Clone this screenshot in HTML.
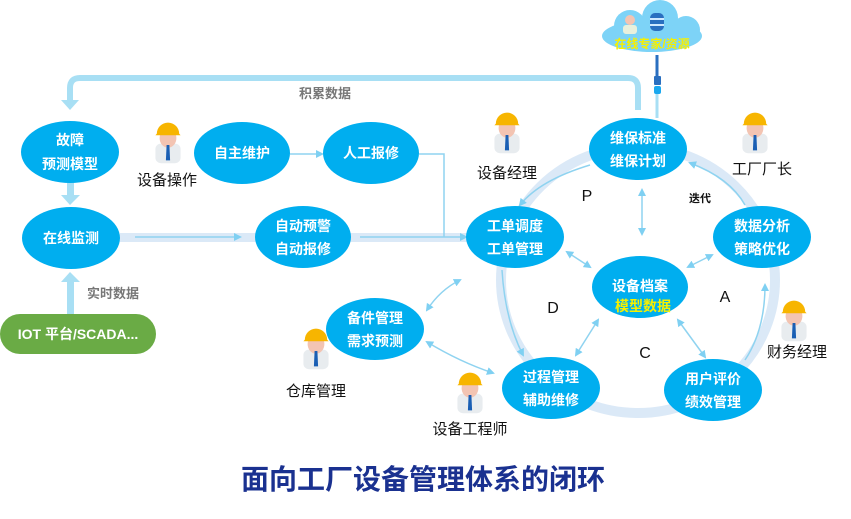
<!DOCTYPE html>
<html><head><meta charset="utf-8"><style>
body{margin:0;background:#fff;width:851px;height:514px;overflow:hidden}
svg text{font-family:"Liberation Sans","Noto Sans CJK SC",sans-serif}
</style></head><body>
<svg width="851" height="514" viewBox="0 0 851 514" xmlns="http://www.w3.org/2000/svg">
<defs>
<marker id="a" markerWidth="8" markerHeight="8" refX="6" refY="4" orient="auto-start-reverse" markerUnits="userSpaceOnUse"><path d="M0,0 L8,4 L0,8 Z" fill="#7fd0f2"/></marker>
<g id="p0">
<rect x="-9" y="4" width="18" height="14" rx="4" fill="#e8ecef"/>
<ellipse cx="0" cy="0" rx="6" ry="7" fill="#f3c4b2"/>
<path d="M-8,-3 A8,8 0 0 1 8,-3 L9,-2 L-9,-2 Z" fill="#f7b500"/>
<path d="M-1,5 L1,5 L1.5,16 L-1.5,16 Z" fill="#1a5fb4"/>
</g>
<g id="p"><use href="#p0" transform="scale(1.4)"/></g>
</defs>
<!-- top loop -->
<path d="M638,110 V88 Q638,78 628,78 H80 Q70,78 70,88 V100" fill="none" stroke="#a8dff4" stroke-width="6"/>
<path d="M61,100 L79,100 L70,110 Z" fill="#a8dff4"/>
<text x="325" y="98" font-size="13" font-weight="bold" fill="#777" text-anchor="middle">积累数据</text>
<!-- cloud -->
<g fill="#7dd3f7"><ellipse cx="652" cy="36" rx="50" ry="16"/><circle cx="630" cy="26" r="16"/><circle cx="660" cy="18" r="18"/><circle cx="686" cy="30" r="14"/></g>
<rect x="650" y="13" width="14" height="18" rx="5" fill="#2a6fc0"/>
<rect x="650" y="18" width="14" height="2" fill="#cfe8ff"/><rect x="650" y="24" width="14" height="2" fill="#cfe8ff"/>
<circle cx="630" cy="20" r="5" fill="#f3c4b2"/><rect x="623" y="25" width="14" height="9" rx="3" fill="#e8f0dc"/>
<text x="652" y="48" font-size="12" font-weight="bold" fill="#f6f000" text-anchor="middle">在线专家/资源</text>
<line x1="657" y1="55" x2="657" y2="78" stroke="#2a6fc0" stroke-width="3"/>
<rect x="654" y="76" width="7" height="9" rx="1" fill="#2a6fc0"/>
<rect x="654" y="86" width="7" height="8" rx="2" fill="#1aa8ef"/>
<line x1="657" y1="94" x2="657" y2="118" stroke="#a8dff4" stroke-width="3"/>
<!-- ring -->
<ellipse cx="638" cy="280" rx="137" ry="133" fill="none" stroke="#dbe9f7" stroke-width="10"/>
<path d="M590,165 Q540,180 520,205" fill="none" stroke="#8fd3f0" stroke-width="1.5" marker-end="url(#a)"/>
<path d="M745,205 Q730,178 690,163" fill="none" stroke="#8fd3f0" stroke-width="1.5" marker-end="url(#a)"/>
<path d="M765,285 Q765,330 745,360" fill="none" stroke="#8fd3f0" stroke-width="1.5" marker-start="url(#a)"/>
<path d="M502,270 Q505,320 523,355" fill="none" stroke="#8fd3f0" stroke-width="1.5" marker-end="url(#a)"/>
<!-- left flows -->
<rect x="120" y="233" width="348" height="9" fill="#dbe9f7"/>
<line x1="135" y1="237" x2="240" y2="237" stroke="#8fd3f0" stroke-width="1.5" marker-end="url(#a)"/>
<line x1="360" y1="237" x2="466" y2="237" stroke="#8fd3f0" stroke-width="1.5" marker-end="url(#a)"/>
<polyline points="419,154 444,154 444,237" fill="none" stroke="#8fd3f0" stroke-width="1.5"/>
<line x1="290" y1="154" x2="322" y2="154" stroke="#8fd3f0" stroke-width="1.5" marker-end="url(#a)"/>
<rect x="67" y="180" width="7" height="15" fill="#a8dff4"/><path d="M61,195 L80,195 L70,205 Z" fill="#a8dff4"/>
<rect x="67" y="282" width="7" height="33" fill="#a8dff4"/><path d="M61,282 L80,282 L70,272 Z" fill="#a8dff4"/>
<text x="113" y="298" font-size="13" font-weight="bold" fill="#777" text-anchor="middle">实时数据</text>
<rect x="0" y="314" width="156" height="40" rx="20" fill="#6aab45"/>
<text x="78" y="339" font-size="14" font-weight="bold" fill="#fff" text-anchor="middle">IOT 平台/SCADA...</text>
<!-- inner arrows -->
<g stroke="#8fd3f0" stroke-width="1.5" fill="none">
<line x1="642" y1="190" x2="642" y2="234" marker-start="url(#a)" marker-end="url(#a)"/>
<line x1="567" y1="252" x2="590" y2="267" marker-start="url(#a)" marker-end="url(#a)"/>
<line x1="688" y1="267" x2="712" y2="255" marker-start="url(#a)" marker-end="url(#a)"/>
<line x1="598" y1="320" x2="576" y2="355" marker-start="url(#a)" marker-end="url(#a)"/>
<line x1="678" y1="320" x2="705" y2="357" marker-start="url(#a)" marker-end="url(#a)"/>
<path d="M460,280 Q440,290 427,310" marker-start="url(#a)" marker-end="url(#a)"/>
<path d="M427,342 Q460,362 493,373" marker-start="url(#a)" marker-end="url(#a)"/>
</g>
<!-- ellipses -->
<g fill="#00aeef">
<ellipse cx="70" cy="152" rx="49" ry="31"/><ellipse cx="242" cy="153" rx="48" ry="31"/>
<ellipse cx="371" cy="153" rx="48" ry="31"/><ellipse cx="71" cy="238" rx="49" ry="31"/>
<ellipse cx="303" cy="237" rx="48" ry="31"/><ellipse cx="638" cy="149" rx="49" ry="31"/>
<ellipse cx="515" cy="237" rx="49" ry="31"/><ellipse cx="762" cy="237" rx="49" ry="31"/>
<ellipse cx="640" cy="287" rx="48" ry="31"/><ellipse cx="551" cy="388" rx="49" ry="31"/>
<ellipse cx="713" cy="390" rx="49" ry="31"/><ellipse cx="375" cy="329" rx="49" ry="31"/>
</g>
<g font-size="14" font-weight="bold" fill="#fff" text-anchor="middle">
<text x="70" y="145">故障</text><text x="70" y="169">预测模型</text>
<text x="242" y="158">自主维护</text><text x="371" y="158">人工报修</text>
<text x="71" y="243">在线监测</text>
<text x="303" y="231">自动预警</text><text x="303" y="254">自动报修</text>
<text x="638" y="143">维保标准</text><text x="638" y="166">维保计划</text>
<text x="515" y="231">工单调度</text><text x="515" y="254">工单管理</text>
<text x="762" y="231">数据分析</text><text x="762" y="254">策略优化</text>
<text x="640" y="291">设备档案</text><text x="643" y="311" fill="#f6f000">模型数据</text>
<text x="551" y="382">过程管理</text><text x="551" y="405">辅助维修</text>
<text x="713" y="384">用户评价</text><text x="713" y="407">绩效管理</text>
<text x="375" y="323">备件管理</text><text x="375" y="346">需求预测</text>
</g>
<g font-size="16" fill="#111" text-anchor="middle">
<text x="587" y="201">P</text><text x="553" y="313">D</text><text x="645" y="358">C</text><text x="725" y="302">A</text>
</g>
<text x="700" y="202" font-size="11" font-weight="bold" fill="#111" text-anchor="middle">迭代</text>
<!-- people -->
<use href="#p" x="168" y="138"/><use href="#p" x="507" y="128"/><use href="#p" x="755" y="128"/>
<use href="#p" x="794" y="316"/><use href="#p" x="316" y="344"/><use href="#p" x="470" y="388"/>
<g font-size="15" fill="#111" text-anchor="middle">
<text x="167" y="185">设备操作</text><text x="507" y="178">设备经理</text><text x="762" y="174">工厂厂长</text>
<text x="797" y="357">财务经理</text><text x="316" y="396">仓库管理</text><text x="470" y="434">设备工程师</text>
</g>
<text x="423" y="489" font-size="28" font-weight="bold" fill="#1a3190" text-anchor="middle">面向工厂设备管理体系的闭环</text>
</svg>
</body></html>
